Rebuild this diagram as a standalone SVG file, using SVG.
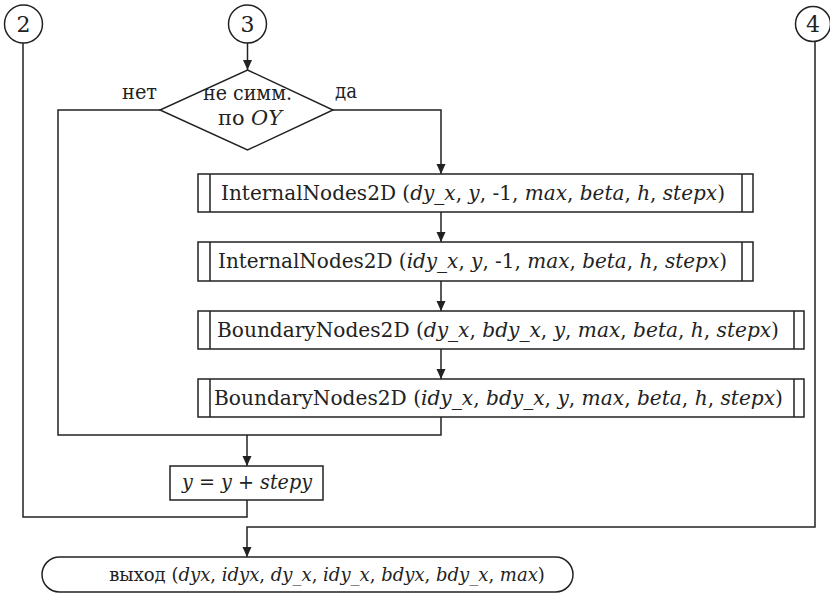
<svg xmlns="http://www.w3.org/2000/svg" width="830" height="594" viewBox="0 0 830 594">
<defs>
<marker id="arr" viewBox="0 0 10 10" refX="10" refY="5" markerWidth="10" markerHeight="10" markerUnits="userSpaceOnUse" orient="auto">
<path d="M0,0.5 L10,5 L0,9.5 Z" fill="#222"/>
</marker>
<style>
.s{fill:#fff;stroke:#222;stroke-width:1.5}
.c{fill:none;stroke:#222;stroke-width:1.5}
.t{font-family:'DejaVu Serif','Liberation Serif','Times New Roman',serif;font-size:20px;fill:#222}
.d{font-size:22px}
.e{font-size:18px}
.i{font-style:italic}
.m{text-anchor:middle}
</style>
</defs>
<g id="connectors">
<path class="c" d="M247.5,43 V70" marker-end="url(#arr)"/>
<path class="c" d="M333,110 H441 V174" marker-end="url(#arr)"/>
<path class="c" d="M441,212 V242" marker-end="url(#arr)"/>
<path class="c" d="M441,281 V311" marker-end="url(#arr)"/>
<path class="c" d="M441,349 V379" marker-end="url(#arr)"/>
<path class="c" d="M160,110 H58 V435 H441 V417"/>
<path class="c" d="M247,435 V466" marker-end="url(#arr)"/>
<path class="c" d="M247,500 V517 H23 V43"/>
<path class="c" d="M815,42 V527 H247 V557" marker-end="url(#arr)"/>
</g>
<g id="c2"><circle class="s" cx="23.5" cy="24" r="19"/><text class="t d m" x="23.5" y="32">2</text></g>
<g id="c3"><circle class="s" cx="247.5" cy="24" r="19"/><text class="t d m" x="247.5" y="32">3</text></g>
<g id="c4"><circle class="s" cx="813" cy="24" r="17.5"/><text class="t d m" x="813" y="32">4</text></g>
<g id="decision">
<path class="s" d="M247.5,70 L333,110 L247.5,150 L160,110 Z"/>
<text class="t" x="203" y="100" textLength="89" lengthAdjust="spacingAndGlyphs">не симм.</text>
<text class="t" x="218" y="125" textLength="64" lengthAdjust="spacingAndGlyphs">по <tspan class="i">OY</tspan></text>
<text class="t" x="122" y="99" textLength="35" lengthAdjust="spacingAndGlyphs">нет</text>
<text class="t" x="335" y="98" textLength="22" lengthAdjust="spacingAndGlyphs">да</text>
</g>
<g id="box1">
<rect class="s" x="198" y="174" width="555" height="38"/>
<path class="c" d="M210,174 V212 M742,174 V212"/>
<text class="t" x="221" y="200" textLength="504" lengthAdjust="spacingAndGlyphs">InternalNodes2D (<tspan class="i">dy_x</tspan>, <tspan class="i">y</tspan>, -1, <tspan class="i">max</tspan>, <tspan class="i">beta</tspan>, <tspan class="i">h</tspan>, <tspan class="i">stepx</tspan>)</text>
</g>
<g id="box2">
<rect class="s" x="198" y="242" width="555" height="39"/>
<path class="c" d="M210,242 V281 M742,242 V281"/>
<text class="t" x="218" y="268" textLength="509" lengthAdjust="spacingAndGlyphs">InternalNodes2D (<tspan class="i">idy_x</tspan>, <tspan class="i">y</tspan>, -1, <tspan class="i">max</tspan>, <tspan class="i">beta</tspan>, <tspan class="i">h</tspan>, <tspan class="i">stepx</tspan>)</text>
</g>
<g id="box3">
<rect class="s" x="198" y="311" width="606" height="38"/>
<path class="c" d="M210,311 V349 M794,311 V349"/>
<text class="t" x="217" y="337" textLength="562" lengthAdjust="spacingAndGlyphs">BoundaryNodes2D (<tspan class="i">dy_x</tspan>, <tspan class="i">bdy_x</tspan>, <tspan class="i">y</tspan>, <tspan class="i">max</tspan>, <tspan class="i">beta</tspan>, <tspan class="i">h</tspan>, <tspan class="i">stepx</tspan>)</text>
</g>
<g id="box4">
<rect class="s" x="198" y="379" width="606" height="38"/>
<path class="c" d="M210,379 V417 M794,379 V417"/>
<text class="t" x="214" y="405" textLength="569" lengthAdjust="spacingAndGlyphs">BoundaryNodes2D (<tspan class="i">idy_x</tspan>, <tspan class="i">bdy_x</tspan>, <tspan class="i">y</tspan>, <tspan class="i">max</tspan>, <tspan class="i">beta</tspan>, <tspan class="i">h</tspan>, <tspan class="i">stepx</tspan>)</text>
</g>
<g id="step">
<rect class="s" x="170" y="466" width="153" height="34"/>
<text class="t i" x="182" y="489" textLength="130" lengthAdjust="spacingAndGlyphs">y = y + stepy</text>
</g>
<g id="exit">
<rect class="s" x="42" y="557" width="531" height="35" rx="17.5"/>
<text class="t e m" x="327" y="581">выход (<tspan class="i">dyx</tspan>, <tspan class="i">idyx</tspan>, <tspan class="i">dy_x</tspan>, <tspan class="i">idy_x</tspan>, <tspan class="i">bdyx</tspan>, <tspan class="i">bdy_x</tspan>, <tspan class="i">max</tspan>)</text>
</g>
</svg>
